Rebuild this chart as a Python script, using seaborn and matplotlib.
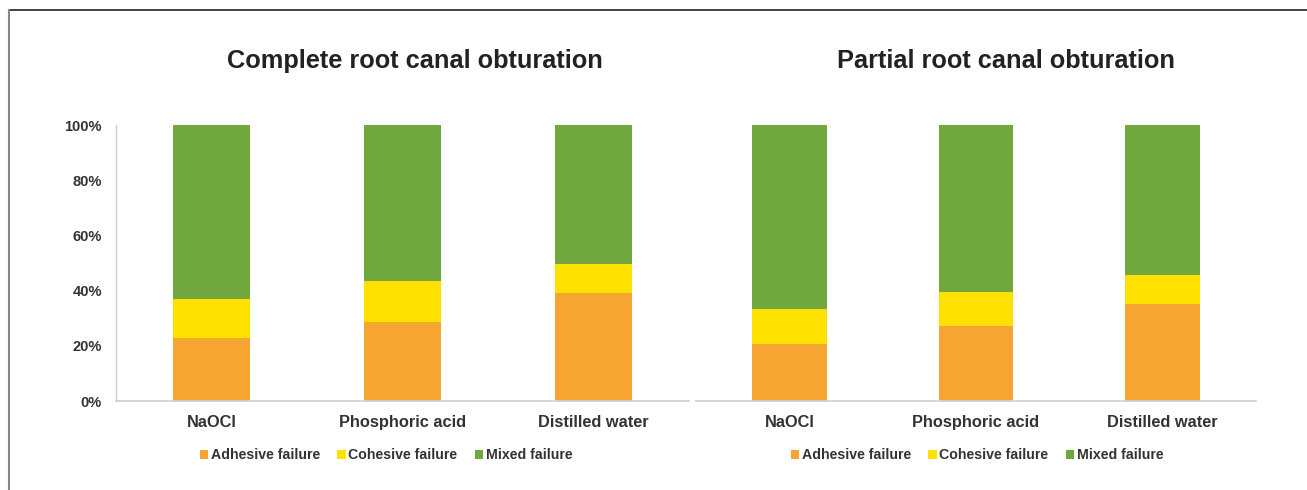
import numpy as np
import pandas as pd
import seaborn as sns
import matplotlib.pyplot as plt
from matplotlib.lines import Line2D
from matplotlib.patches import Patch

sns.set_theme(style="white")
plt.rcParams['font.family'] = ['Liberation Sans', 'DejaVu Sans']

# Werte (Anteile in %)
groups = ["NaOCl", "Phosphoric acid", "Distilled water"]
failure_types = ["Adhesive failure", "Cohesive failure", "Mixed failure"]
colors = ["#F6A531", "#FFE100", "#70A83D"]

complete_adhesive = [22.7, 28.7, 39.2]
complete_cohesive = [14.4, 14.7, 10.4]
complete_mixed = [62.9, 56.6, 50.4]

partial_adhesive = [20.8, 27.0, 35.3]
partial_cohesive = [12.4, 12.4, 10.3]
partial_mixed = [66.8, 60.6, 54.4]

titles = ["Complete root canal obturation", "Partial root canal obturation"]
title_x = [415, 1006]
legend_x = [386, 977]

text_col = "#333333"
axis_col = "#D0D0D0"


def make_df(adh, coh, mix):
    df = pd.DataFrame({"group": groups, "Adhesive failure": adh,
                       "Cohesive failure": coh, "Mixed failure": mix})
    # kumulierte Höhen für gestapelte Balken
    df["c1"] = df["Adhesive failure"]
    df["c2"] = df["c1"] + df["Cohesive failure"]
    df["c3"] = df["c2"] + df["Mixed failure"]
    return df


data = [make_df(complete_adhesive, complete_cohesive, complete_mixed),
        make_df(partial_adhesive, partial_cohesive, partial_mixed)]

W, H = 1307, 490
fig = plt.figure(figsize=(W / 100, H / 100), dpi=100)

ax_boxes = [(116, 689), (696, 1256)]
y_top, y_bot = 125, 401

for i, (df, (x0, x1)) in enumerate(zip(data, ax_boxes)):
    ax = fig.add_axes([x0 / W, 1 - y_bot / H, (x1 - x0) / W, (y_bot - y_top) / H])
    # von hinten nach vorne zeichnen
    for col, c in zip(["c3", "c2", "c1"], colors[::-1]):
        sns.barplot(data=df, x="group", y=col, color=c, width=0.4,
                    saturation=1, ax=ax, linewidth=0)
    ax.set_xlim(-0.5, 2.5)
    ax.set_ylim(0, 100)
    ax.set_xlabel("")
    ax.set_ylabel("")
    for s in ["top", "right"]:
        ax.spines[s].set_visible(False)
    ax.spines["bottom"].set_color(axis_col)
    ax.spines["bottom"].set_linewidth(1.2)
    ax.tick_params(axis="x", length=0, pad=10, labelsize=11.8, labelcolor=text_col)
    for lab in ax.get_xticklabels():
        lab.set_fontweight("bold")
    if i == 0:
        ax.spines["left"].set_color(axis_col)
        ax.spines["left"].set_linewidth(1.0)
        ax.set_yticks([0, 20, 40, 60, 80, 100])
        ax.set_yticklabels([f"{v}%" for v in [0, 20, 40, 60, 80, 100]],
                           fontweight="bold")
        ax.tick_params(axis="y", length=0, pad=10, labelsize=10.5, labelcolor=text_col)
        ax.set_xticks([0.5, 1.5], minor=True)
        ax.tick_params(axis="x", which="minor", length=4, color=axis_col, direction="out")
    else:
        ax.spines["left"].set_visible(False)
        ax.set_yticks([])

    fig.text(title_x[i] / W, 1 - 61 / H, titles[i], ha="center", va="center",
             fontsize=18.3, fontweight="bold", color="#222222")

    handles = [Patch(facecolor=c, edgecolor="none") for c in colors]
    fig.legend(handles, failure_types, loc="center", ncol=3,
               bbox_to_anchor=(legend_x[i] / W, 1 - 455 / H), frameon=False,
               handlelength=0.6, handleheight=0.6, handletextpad=0.2,
               columnspacing=1.2,
               prop={"weight": "bold", "size": 10.2}, labelcolor=text_col)

# Rahmen oben und links
fig.add_artist(Line2D([9 / W, 1], [1 - 10 / H, 1 - 10 / H], color="#222222", lw=1.2))
fig.add_artist(Line2D([9 / W, 9 / W], [0, 1 - 10 / H], color="#888888", lw=1.5))

fig.savefig("out.png", dpi=100)
